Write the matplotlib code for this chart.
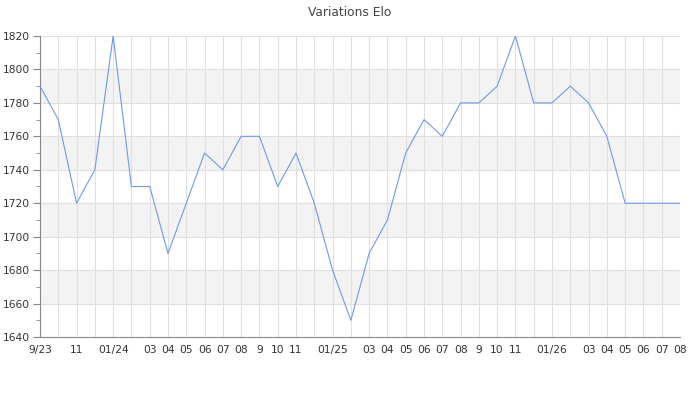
import matplotlib
matplotlib.use('Agg')
import matplotlib.pyplot as plt
import numpy as np

# monthly elo, 09/2023 .. 08/2026
months = ['9/23', '10', '11', '12', '01/24', '02', '03', '04', '05', '06', '07', '08',
          '9', '10', '11', '12', '01/25', '02', '03', '04', '05', '06', '07', '08',
          '9', '10', '11', '12', '01/26', '02', '03', '04', '05', '06', '07', '08']
elo = [1790, 1770, 1720, 1740, 1820, 1730, 1730, 1690, 1720, 1750, 1740, 1760,
       1760, 1730, 1750, 1720, 1680, 1650, 1690, 1710, 1750, 1770, 1760, 1780,
       1780, 1790, 1820, 1780, 1780, 1790, 1780, 1760, 1720, 1720, 1720, 1720]
# labels dropped by the original chart (crowding)
hidden = {1, 3, 5, 15, 17, 27, 29}
y_ticks = list(range(1640, 1821, 20))

fig = plt.figure(figsize=(7, 4), dpi=100)
ax = fig.add_axes([40/700, 1-337/400, 640/700, 301/400])

x = np.arange(len(elo))
ax.set_xlim(0, len(elo)-1)
ax.set_ylim(1640, 1820)

# alternating bands
for lo in range(1660, 1820, 40):
    ax.axhspan(lo, lo+20, color='#f3f3f3', zorder=0, lw=0)

ax.set_xticks(x)
ax.set_xticklabels(['' if i in hidden else m for i, m in enumerate(months)])
ax.set_yticks(y_ticks)
ax.set_yticks(range(1650, 1820, 20), minor=True)
ax.grid(True, which='major', color='#e0e0e0', lw=0.8, zorder=1)

ax.plot(x, elo, color='#6b9af0', lw=0.8, zorder=3)

for s in ['top', 'right']:
    ax.spines[s].set_visible(False)
for s in ['left', 'bottom']:
    ax.spines[s].set_color('#888888')
ax.tick_params(axis='x', length=0, pad=6, labelsize=7.7, colors='#333333')
ax.tick_params(axis='y', which='major', length=5, color='#888888', labelsize=7.7, labelcolor='#333333', pad=2)
ax.tick_params(axis='y', which='minor', length=3, color='#888888')

fig.text(0.5, 1-12/400, 'Variations Elo', ha='center', va='center', fontsize=8.8, color='#444444')

fig.savefig('out.png', dpi=100)
